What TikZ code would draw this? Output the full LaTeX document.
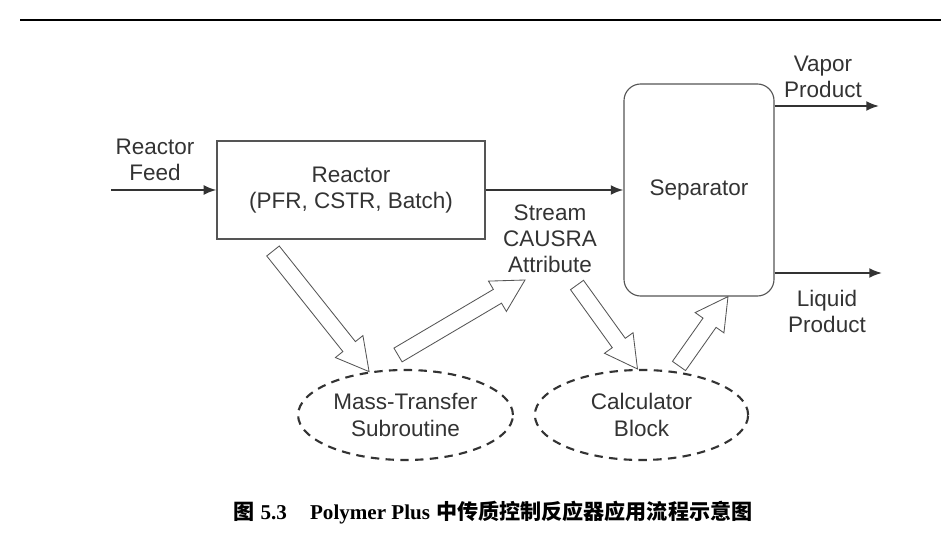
\documentclass[tikz,border=0pt]{standalone}
\usepackage{fontspec}
\setmainfont{Liberation Sans}
\newfontfamily\capfont{Liberation Serif}
\newfontfamily\cjk{Noto Sans CJK SC}
\usetikzlibrary{shapes.geometric,arrows.meta,calc}
\definecolor{tinta}{HTML}{333333}
\definecolor{borde}{HTML}{555555}
% hollow block arrow from #1 (tail) to #2 (tip)
\newcommand{\blockarrow}[2]{%
  \coordinate (hb) at ($(#2)!0.8cm!(#1)$);
  \draw[hueca] ($(#1)!0.2cm!90:(#2)$) -- ($(hb)!0.2cm!-90:(#1)$)
    -- ($(hb)!0.44cm!-90:(#1)$) -- (#2) -- ($(hb)!0.44cm!90:(#1)$)
    -- ($(hb)!0.2cm!90:(#1)$) -- ($(#1)!0.2cm!-90:(#2)$) -- cycle;}

\begin{document}
\begin{tikzpicture}[x=0.025cm, y=-0.025cm,
    every node/.style={text=tinta, font=\fontsize{16}{18.6}\selectfont},
    caja/.style={draw=borde, line width=0.8pt, align=center},
    bloque/.style={ellipse, draw=tinta, line width=1.5pt, dash pattern=on 6pt off 4.5pt,
      minimum width=5.37cm, minimum height=2.25cm, inner sep=0pt, align=center},
    flujo/.style={draw=tinta, line width=1.3pt, -{Latex[length=9pt,width=7pt]}},
    hueca/.style={draw=borde, line width=0.6pt, fill=white, line join=miter},
    etiqueta/.style={align=center}]
  \useasboundingbox (0,0) rectangle (941,543);
  \draw[line width=1.5pt] (20,20) -- (941,20);
  % units
  \node[caja, minimum width=6.7cm, minimum height=2.45cm] (reactor) at (351,190)
    {Reactor\\(PFR, CSTR, Batch)};
  \node[caja, rounded corners=0.42cm, minimum width=3.75cm, minimum height=5.3cm] (sep) at (699,190)
    {Separator};
  \node[bloque] (mass) at (405.5,415) {Mass-Transfer\\Subroutine};
  \node[bloque, minimum width=5.33cm] (calc) at (641.5,415) {Calculator\\Block};
  % labels
  \node[etiqueta] (feedlbl) at (155,160) {Reactor\\Feed};
  \node[etiqueta] (attr) at (550,238.5) {Stream\\CAUSRA\\Attribute};
  \node[etiqueta] (vaplbl) at (823,77) {Vapor\\Product};
  \node[etiqueta] (liqlbl) at (827,311.5) {Liquid\\Product};
  % streams
  \coordinate (feed) at (111,190);
  \coordinate (vap) at (879,106);
  \coordinate (liq) at (882,273);
  \draw[flujo] (feed) -- (reactor.west);
  \draw[flujo] (reactor.east) -- (sep.west);
  \draw[flujo] (sep.east |- vap) -- (vap);
  \draw[flujo] (sep.east |- liq) -- (liq);
  % information arrows
  \coordinate (a1) at (273,251);
  \coordinate (a2) at (398,355);
  \coordinate (a3) at (525,280);
  \coordinate (a4) at (577,285);
  \coordinate (a5) at (679,366);
  \coordinate (a6) at ($(sep.south)+(29,0)$);
  \blockarrow{a1}{mass.130}
  \blockarrow{a2}{a3}
  \blockarrow{a4}{calc.95}
  \blockarrow{a5}{a6}
  % caption
  \node[text=black, font=\fontsize{15}{17}\selectfont\bfseries] (titulo) at (493,513)
    {{\cjk 图} {\capfont 5.3}\hspace{1.1em}{\capfont Polymer Plus} {\cjk 中传质控制反应器应用流程示意图}};
\end{tikzpicture}
\end{document}
